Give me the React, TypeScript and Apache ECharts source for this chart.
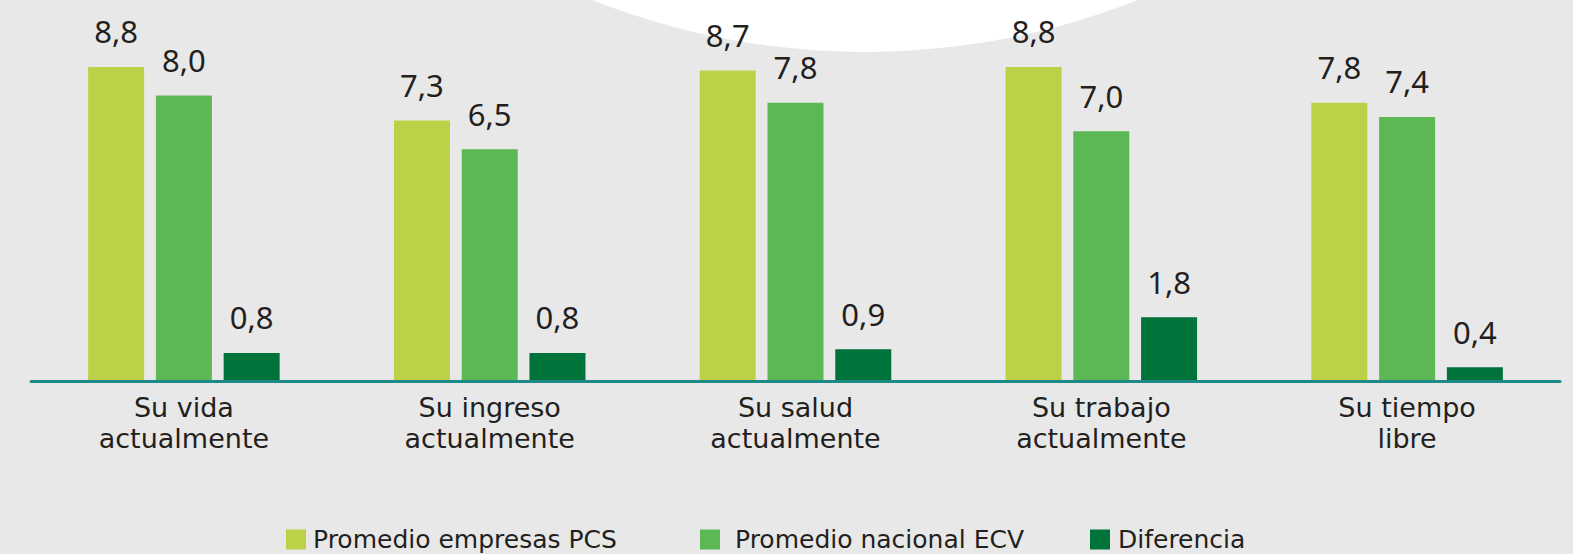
import React, { useEffect, useRef } from "react";
import * as echarts from "echarts";

const categories = [
  "Su vida\nactualmente",
  "Su ingreso\nactualmente",
  "Su salud\nactualmente",
  "Su trabajo\nactualmente",
  "Su tiempo\nlibre",
];
const seriesNames = ["Promedio empresas PCS", "Promedio nacional ECV", "Diferencia"];
const pcsValues = [8.8, 7.3, 8.7, 8.8, 7.8];
const ecvValues = [8.0, 6.5, 7.8, 7.0, 7.4];
const diffValues = [0.8, 0.8, 0.9, 1.8, 0.4];
const colors = ["#bcd147", "#5cb755", "#00733b"];

const FONT = "'Noto Sans', 'DejaVu Sans', sans-serif";
const FONT2 = "'DejaVu Sans', 'Noto Sans', sans-serif";
const TEXT = "#231f20";

export default function App() {
  const ref = useRef<HTMLDivElement>(null);
  useEffect(() => {
    if (!ref.current) return;
    const chart = echarts.init(ref.current, null, { renderer: "svg" });
    const fmt = (p: any) => Number(p.value).toFixed(1).replace(".", ",");
    const mk = (i: number, data: number[]) => ({
      name: seriesNames[i],
      type: "bar",
      data,
      barWidth: 56,
      barGap: "21%",
      itemStyle: { color: colors[i] },
      label: {
        show: true,
        position: "top",
        distance: 20,
        formatter: fmt,
        fontFamily: FONT,
        fontSize: 31,
        color: TEXT,
      },
    });
    const legendLefts = [286, 700, 1090];
    const legendTextPad = [2, 10, 3];
    chart.setOption({
      animation: false,
      backgroundColor: "#e8e8e8",
      textStyle: { fontFamily: FONT },
      graphic: [
        {
          type: "circle",
          z: 0,
          silent: true,
          shape: { cx: 865, cy: -691, r: 743 },
          style: { fill: "#ffffff" },
        },
      ],
      grid: { left: 31, right: 13, top: 24, bottom: 172.5, containLabel: false },
      legend: seriesNames.map((n, i) => ({
        data: [n],
        left: legendLefts[i],
        top: 527,
        padding: 0,
        itemWidth: 20,
        itemHeight: 20,
        icon: "rect",
        textStyle: {
          fontFamily: FONT2,
          fontSize: 25,
          color: TEXT,
          padding: [0, 0, 0, legendTextPad[i]],
        },
      })),
      xAxis: {
        type: "category",
        data: categories,
        axisLine: { show: true, lineStyle: { color: "#1e8a88", width: 3 } },
        axisTick: { show: false },
        axisLabel: {
          margin: 10,
          fontFamily: FONT2,
          fontSize: 27,
          lineHeight: 31,
          color: TEXT,
          interval: 0,
        },
        z: 10,
      },
      yAxis: {
        type: "value",
        min: 0,
        max: 10,
        show: false,
        splitLine: { show: false },
      },
      series: [mk(0, pcsValues), mk(1, ecvValues), mk(2, diffValues)],
    });
    return () => chart.dispose();
  }, []);
  return (
    <div
      ref={ref}
      style={{ position: "fixed", left: 0, top: 0, width: 1573, height: 554 }}
    />
  );
}
